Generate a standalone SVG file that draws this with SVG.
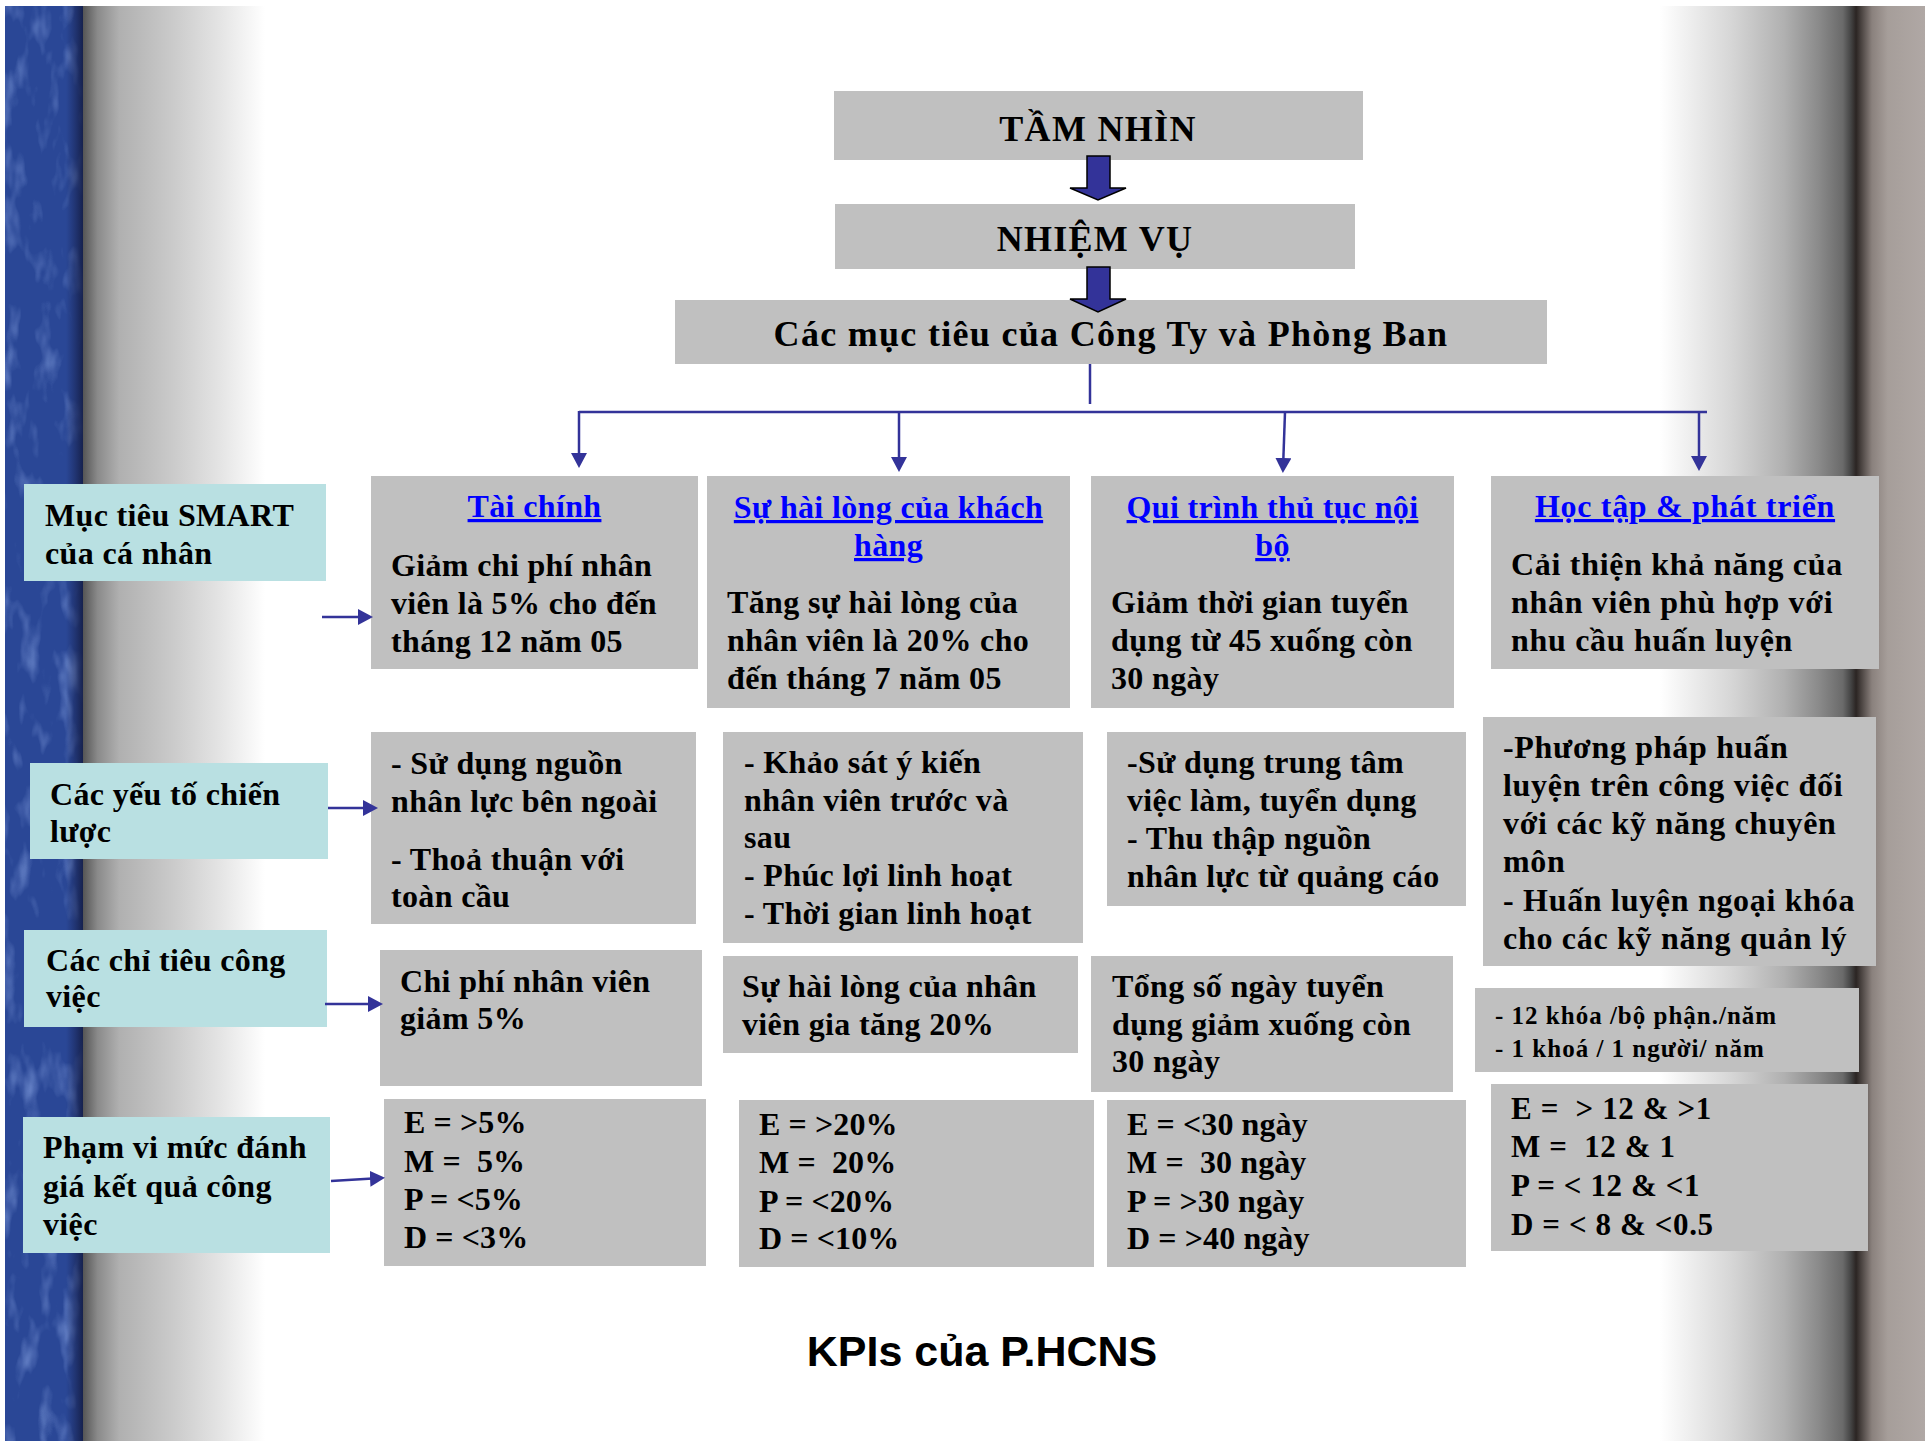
<svg xmlns="http://www.w3.org/2000/svg" width="1925" height="1441" viewBox="0 0 1925 1441">
  <style>
    .box { fill: #c0c0c0; }
    .lbl { fill: #b9e0e2; }
    .t { font-family: "Liberation Serif", "Times New Roman", serif; font-weight: bold; font-size: 32px; fill: #000; letter-spacing: 0.35px; }
    .mid { text-anchor: middle; }
    .h { fill: #0000ff; text-decoration: underline; }
    .big { font-size: 36px; letter-spacing: 1.3px; }
    .sp { letter-spacing: 0.7px; }
    .small { font-size: 25px; letter-spacing: 1px; }
    .rng { font-size: 31px; letter-spacing: 0.6px; }
    .val { letter-spacing: 0.1px; }
    .conn { stroke: #333399; stroke-width: 2.5; fill: none; }
    .blk { fill: #333399; stroke: #000; stroke-width: 1.5; stroke-linejoin: miter; }
    .caption { font-family: "Liberation Sans", Arial, sans-serif; font-weight: bold; font-size: 43px; fill: #000; text-anchor: middle; }
  </style>
  <defs>
    <marker id="ah" viewBox="0 0 15 16" refX="11" refY="8" markerWidth="15" markerHeight="16" markerUnits="userSpaceOnUse" orient="auto">
      <path d="M0,0 L15,8 L0,16 z" fill="#333399"/>
    </marker>
    <linearGradient id="leftShade" x1="0" y1="0" x2="1" y2="0">
      <stop offset="0" stop-color="#555555"/>
      <stop offset="0.08" stop-color="#8a8a8a"/>
      <stop offset="0.2" stop-color="#b0b0b0"/>
      <stop offset="0.5" stop-color="#cbcbcb"/>
      <stop offset="0.75" stop-color="#e4e4e4"/>
      <stop offset="1" stop-color="#ffffff"/>
    </linearGradient>
    <linearGradient id="rightShade" x1="0" y1="0" x2="1" y2="0">
      <stop offset="0" stop-color="#ffffff"/>
      <stop offset="0.27" stop-color="#d6d6d6"/>
      <stop offset="0.47" stop-color="#b0b0b0"/>
      <stop offset="0.6" stop-color="#8a8a8a"/>
      <stop offset="0.69" stop-color="#6a6a6a"/>
      <stop offset="0.72" stop-color="#444444"/>
      <stop offset="0.74" stop-color="#2b2523"/>
      <stop offset="0.8" stop-color="#8a817d"/>
      <stop offset="0.86" stop-color="#a69e9a"/>
      <stop offset="1" stop-color="#b0a8a5"/>
    </linearGradient>
    <linearGradient id="stripEdge" x1="0" y1="0" x2="1" y2="0">
      <stop offset="0" stop-color="#1a2555" stop-opacity="0"/>
      <stop offset="1" stop-color="#141d45" stop-opacity="0.9"/>
    </linearGradient>
    <!-- mottled spots on the blue strip -->
    <filter id="mottle" x="0" y="0" width="1" height="1">
      <feTurbulence type="fractalNoise" baseFrequency="0.05 0.02" numOctaves="3" seed="7" result="n"/>
      <feColorMatrix in="n" type="matrix" values="0 0 0 0 0.27  0 0 0 0 0.4  0 0 0 0 0.8  1.6 0 0 0 -0.85" result="spots"/>
      <feComposite in="spots" in2="SourceAlpha" operator="in"/>
    </filter>
  </defs>

  <!-- page background -->
  <rect x="0" y="0" width="1925" height="1441" fill="#ffffff"/>
  <rect x="83" y="6" width="182" height="1435" fill="url(#leftShade)"/>
  <rect x="1660" y="6" width="265" height="1435" fill="url(#rightShade)"/>
  <rect x="5" y="6" width="78" height="1435" fill="#2a4796"/>
  <rect x="5" y="6" width="78" height="1435" fill="#000" filter="url(#mottle)"/>
  <rect x="66" y="6" width="17" height="1435" fill="url(#stripEdge)"/>

  <!-- top chain -->
  <g id="vision">
    <rect x="834" y="91" width="529" height="69" class="box"/>
    <text x="1098" y="141" class="t big mid">TẦM NHÌN</text>
  </g>
  <g id="mission">
    <rect x="835" y="204" width="520" height="65" class="box"/>
    <text x="1095" y="251" class="t big mid">NHIỆM VỤ</text>
  </g>
  <g id="objectives">
    <rect x="675" y="300" width="872" height="64" class="box"/>
    <text x="1111" y="346" class="t big mid">Các mục tiêu của Công Ty và Phòng Ban</text>
  </g>

  <!-- row 1: perspectives -->
  <g id="finance">
    <rect x="371" y="476" width="327" height="193" class="box"/>
    <text x="534.5" y="517" class="t h mid">Tài chính</text>
    <text x="391" y="576" class="t">Giảm chi phí nhân</text>
    <text x="391" y="614" class="t">viên là 5% cho đến</text>
    <text x="391" y="652" class="t">tháng 12 năm 05</text>
  </g>
  <g id="customer">
    <rect x="707" y="476" width="363" height="232" class="box"/>
    <text x="888.5" y="518" class="t h mid">Sự hài lòng của khách</text>
    <text x="888.5" y="556" class="t h mid">hàng</text>
    <text x="727" y="613" class="t">Tăng sự hài lòng của</text>
    <text x="727" y="651" class="t">nhân viên là 20% cho</text>
    <text x="727" y="689" class="t">đến tháng 7 năm 05</text>
  </g>
  <g id="process">
    <rect x="1091" y="476" width="363" height="232" class="box"/>
    <text x="1272.5" y="518" class="t h mid">Qui trình thủ tục nội</text>
    <text x="1272.5" y="556" class="t h mid">bộ</text>
    <text x="1111" y="613" class="t">Giảm thời gian tuyển</text>
    <text x="1111" y="651" class="t">dụng từ 45 xuống còn</text>
    <text x="1111" y="689" class="t">30 ngày</text>
  </g>
  <g id="learning">
    <rect x="1491" y="476" width="388" height="193" class="box"/>
    <text x="1685" y="517" class="t h mid sp">Học tập &amp; phát triển</text>
    <text x="1511" y="575" class="t sp">Cải thiện khả năng của</text>
    <text x="1511" y="613" class="t sp">nhân viên phù hợp với</text>
    <text x="1511" y="651" class="t sp">nhu cầu huấn luyện</text>
  </g>

  <!-- row 2: strategic factors -->
  <g id="finance-factors">
    <rect x="371" y="732" width="325" height="192" class="box"/>
    <text x="391" y="774" class="t">- Sử dụng nguồn</text>
    <text x="391" y="812" class="t">nhân lực bên ngoài</text>
    <text x="391" y="870" class="t">- Thoả thuận với</text>
    <text x="391" y="907" class="t">toàn cầu</text>
  </g>
  <g id="customer-factors">
    <rect x="723" y="732" width="360" height="211" class="box"/>
    <text x="744" y="773" class="t">- Khảo sát ý kiến</text>
    <text x="744" y="811" class="t">nhân viên trước và</text>
    <text x="744" y="848" class="t">sau</text>
    <text x="744" y="886" class="t">- Phúc lợi linh hoạt</text>
    <text x="744" y="924" class="t">- Thời gian linh hoạt</text>
  </g>
  <g id="process-factors">
    <rect x="1107" y="732" width="359" height="174" class="box"/>
    <text x="1127" y="773" class="t">-Sử dụng trung tâm</text>
    <text x="1127" y="811" class="t">việc làm, tuyển dụng</text>
    <text x="1127" y="849" class="t">- Thu thập nguồn</text>
    <text x="1127" y="887" class="t">nhân lực từ quảng cáo</text>
  </g>
  <g id="learning-factors">
    <rect x="1483" y="717" width="393" height="249" class="box"/>
    <text x="1503" y="758" class="t sp">-Phương pháp huấn</text>
    <text x="1503" y="796" class="t sp">luyện trên công việc đối</text>
    <text x="1503" y="834" class="t sp">với các kỹ năng chuyên</text>
    <text x="1503" y="872" class="t sp">môn</text>
    <text x="1503" y="911" class="t sp">- Huấn luyện ngoại khóa</text>
    <text x="1503" y="949" class="t sp">cho các kỹ năng quản lý</text>
  </g>

  <!-- row 3: job indicators -->
  <g id="finance-indicator">
    <rect x="380" y="950" width="322" height="136" class="box"/>
    <text x="400" y="992" class="t">Chi phí nhân viên</text>
    <text x="400" y="1029" class="t">giảm 5%</text>
  </g>
  <g id="customer-indicator">
    <rect x="723" y="956" width="355" height="97" class="box"/>
    <text x="742" y="997" class="t">Sự hài lòng của nhân</text>
    <text x="742" y="1035" class="t">viên gia tăng 20%</text>
  </g>
  <g id="process-indicator">
    <rect x="1091" y="956" width="362" height="136" class="box"/>
    <text x="1112" y="997" class="t">Tổng số ngày tuyển</text>
    <text x="1112" y="1035" class="t">dụng giảm xuống còn</text>
    <text x="1112" y="1072" class="t">30 ngày</text>
  </g>
  <g id="learning-indicator">
    <rect x="1475" y="988" width="384" height="84" class="box"/>
    <text x="1495" y="1024" class="t small">- 12 khóa /bộ phận./năm</text>
    <text x="1495" y="1057" class="t small">- 1 khoá / 1 người/ năm</text>
  </g>

  <!-- row 4: rating ranges -->
  <g id="finance-range">
    <rect x="384" y="1099" width="322" height="167" class="box"/>
    <text x="404" y="1133" class="t val" xml:space="preserve">E = &gt;5%</text>
    <text x="404" y="1172" class="t val" xml:space="preserve">M =  5%</text>
    <text x="404" y="1210" class="t val" xml:space="preserve">P = &lt;5%</text>
    <text x="404" y="1248" class="t val" xml:space="preserve">D = &lt;3%</text>
  </g>
  <g id="customer-range">
    <rect x="739" y="1100" width="355" height="167" class="box"/>
    <text x="759" y="1135" class="t val" xml:space="preserve">E = &gt;20%</text>
    <text x="759" y="1173" class="t val" xml:space="preserve">M =  20%</text>
    <text x="759" y="1212" class="t val" xml:space="preserve">P = &lt;20%</text>
    <text x="759" y="1249" class="t val" xml:space="preserve">D = &lt;10%</text>
  </g>
  <g id="process-range">
    <rect x="1107" y="1100" width="359" height="167" class="box"/>
    <text x="1127" y="1135" class="t val" xml:space="preserve">E = &lt;30 ngày</text>
    <text x="1127" y="1173" class="t val" xml:space="preserve">M =  30 ngày</text>
    <text x="1127" y="1212" class="t val" xml:space="preserve">P = &gt;30 ngày</text>
    <text x="1127" y="1249" class="t val" xml:space="preserve">D = &gt;40 ngày</text>
  </g>
  <g id="learning-range">
    <rect x="1491" y="1084" width="377" height="167" class="box"/>
    <text x="1511" y="1119" class="t rng" xml:space="preserve">E =  &gt; 12 &amp; &gt;1</text>
    <text x="1511" y="1157" class="t rng" xml:space="preserve">M =  12 &amp; 1</text>
    <text x="1511" y="1196" class="t rng" xml:space="preserve">P = &lt; 12 &amp; &lt;1</text>
    <text x="1511" y="1235" class="t rng" xml:space="preserve">D = &lt; 8 &amp; &lt;0.5</text>
  </g>

  <!-- row labels -->
  <g id="label-smart">
    <rect x="24" y="484" width="302" height="97" class="lbl"/>
    <text x="45" y="526" class="t">Mục tiêu SMART</text>
    <text x="45" y="564" class="t">của cá nhân</text>
  </g>
  <g id="label-strategy">
    <rect x="30" y="763" width="298" height="96" class="lbl"/>
    <text x="50" y="805" class="t">Các yếu tố chiến</text>
    <text x="50" y="842" class="t">lược</text>
  </g>
  <g id="label-indicators">
    <rect x="24" y="930" width="303" height="97" class="lbl"/>
    <text x="46" y="971" class="t">Các chỉ tiêu công</text>
    <text x="46" y="1007" class="t">việc</text>
  </g>
  <g id="label-range">
    <rect x="23" y="1117" width="307" height="136" class="lbl"/>
    <text x="43" y="1158" class="t">Phạm vi mức đánh</text>
    <text x="43" y="1197" class="t">giá kết quả công</text>
    <text x="43" y="1235" class="t">việc</text>
  </g>

  <!-- connectors -->
  <g id="connectors">
    <polygon class="blk" points="1087,156 1110,156 1110,188 1126,188 1098,200 1070,188 1087,188"/>
    <polygon class="blk" points="1087,267 1110,267 1110,299 1126,299 1098,312 1070,299 1087,299"/>
    <line class="conn" x1="1090" y1="364" x2="1090" y2="404"/>
    <line class="conn" x1="579" y1="412" x2="1707" y2="412"/>
    <line class="conn" x1="579" y1="411" x2="579" y2="464" marker-end="url(#ah)"/>
    <line class="conn" x1="899" y1="412" x2="899" y2="468" marker-end="url(#ah)"/>
    <line class="conn" x1="1285" y1="412" x2="1283" y2="469" marker-end="url(#ah)"/>
    <line class="conn" x1="1699" y1="412" x2="1699" y2="467" marker-end="url(#ah)"/>
    <line class="conn" x1="322" y1="617" x2="369" y2="617" marker-end="url(#ah)"/>
    <line class="conn" x1="328" y1="808" x2="374" y2="808" marker-end="url(#ah)"/>
    <line class="conn" x1="325" y1="1004" x2="379" y2="1004" marker-end="url(#ah)"/>
    <line class="conn" x1="331" y1="1181" x2="381" y2="1178" marker-end="url(#ah)"/>
  </g>

  <text x="982" y="1366" class="caption">KPIs của P.HCNS</text>
</svg>
